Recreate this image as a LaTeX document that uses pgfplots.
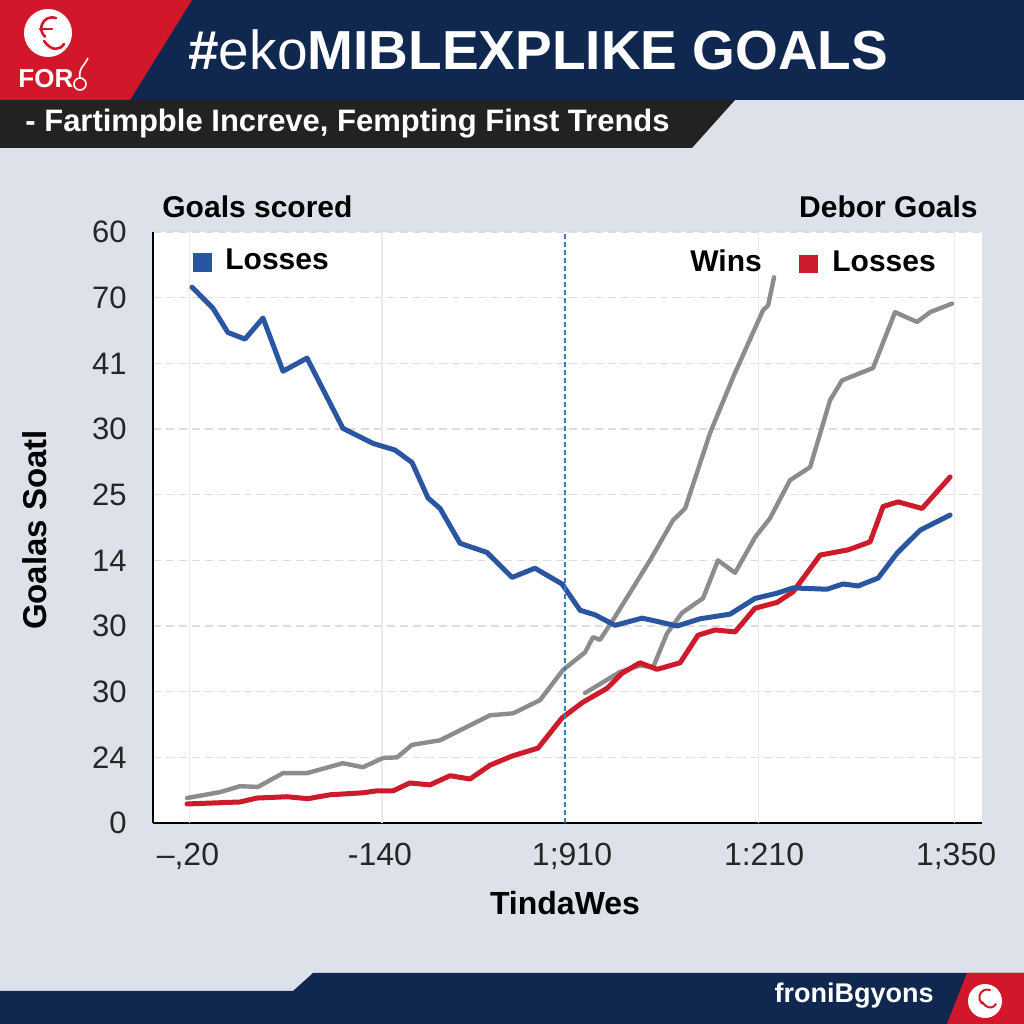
\documentclass[border=0pt]{standalone}
\usepackage{pgfplots}
\pgfplotsset{compat=1.18}
\usepackage{fontspec}
\setmainfont{Liberation Sans}
\definecolor{navy}{HTML}{10284F}
\definecolor{bgl}{HTML}{DCE1EA}
\definecolor{redh}{HTML}{D3172A}
\definecolor{barblack}{HTML}{222222}
\definecolor{blueL}{HTML}{2A55A0}
\definecolor{redL}{HTML}{CD1B2B}
\definecolor{grayL}{HTML}{8C8C8C}
\definecolor{dashblue}{HTML}{2F7FD0}
\definecolor{gridc}{HTML}{DDDDDD}
\begin{document}
\begin{tikzpicture}[x=0.5pt,y=0.5pt]
\useasboundingbox (0,0) rectangle (1024,1024);
\fill[bgl] (0,0) rectangle (1024,1024);
% header
\fill[navy] (0,924) rectangle (1024,1024);
\fill[redh] (0,1024) -- (192,1024) -- (130,924) -- (0,924) -- cycle;
\fill[barblack] (0,924) -- (735,924) -- (692,876) -- (0,876) -- cycle;
% logo top-left
\fill[white] (48,991) circle (24);
\draw[redh, line width=1.3pt, line cap=round] (56,1006) arc (70:230:11) ;
\draw[redh, line width=1.3pt, line cap=round] (40,995) -- (52,995);
\draw[redh, line width=1.3pt, line cap=round] (44,983) .. controls (52,972) and (60,974) .. (64,980);
\node[anchor=base west, inner sep=0, text=white, font=\fontsize{13}{13}\selectfont\bfseries] at (18,936) {FOR};
\draw[white, line width=0.8pt] (80,940) circle (6);
\draw[white, line width=0.8pt] (80,946) .. controls (78,956) and (86,960) .. (88,966);
% title and subtitle
\node[anchor=base west, inner sep=0, text=white, font=\fontsize{27.5}{30}\selectfont\bfseries] at (188,954) {\#{\mdseries eko}MIBLEXPLIKE GOALS};
\node[anchor=base west, inner sep=0, text=white, font=\fontsize{15.5}{17}\selectfont\bfseries] at (25,892) {- Fartimpble Increve, Fempting Finst Trends};
% footer
\fill[navy] (0,0) -- (0,33) -- (293,33) -- (313,51) -- (1024,51) -- (1024,0) -- cycle;
\fill[redh] (967,51) -- (1024,51) -- (1024,0) -- (947,0) -- cycle;
\fill[white] (985,23) circle (17);
\draw[redh, line width=1pt, line cap=round] (990,34) arc (70:230:8);
\draw[redh, line width=1pt, line cap=round] (982,22) .. controls (988,14) and (994,16) .. (996,20);
\node[anchor=base east, inner sep=0, text=white, font=\fontsize{13.5}{14}\selectfont\bfseries] at (934,21) {froniBgyons};
% chart headings
\node[anchor=base west, inner sep=0, text=black, font=\fontsize{15}{16}\selectfont\bfseries] at (162,806) {Goals scored};
\node[anchor=base east, inner sep=0, text=black, font=\fontsize{15}{16}\selectfont\bfseries] at (978,806) {Debor Goals};
\begin{axis}[
  at={(76.5pt,100.5pt)}, anchor=south west,
  width=414.5pt, height=295.5pt, scale only axis,
  xmin=-0.182, xmax=4.135, ymin=0, ymax=9,
  axis x line*=bottom, axis y line*=left,
  axis line style={black, line width=1pt, -},
  axis background/.style={fill=white},
  xtick={0,1,2,3,4},
  xticklabels={{–,20},{-140},{1;910},{1:210},{1;350}},
  ytick={0,1,2,3,4,5,6,7,8,9},
  yticklabels={0,24,30,30,14,25,30,41,70,60},
  major tick length=0pt,
  tick style={draw=none},
  ymajorgrids,
  grid style={gridc, line width=0.7pt, dash pattern=on 4pt off 2.5pt},
  yticklabel style={font=\fontsize{15.5}{16}\selectfont, text=black!85, inner sep=0pt, xshift=-13pt},
  xticklabel style={font=\fontsize{16}{16}\selectfont, text=black!85, inner sep=0pt, yshift=-10pt},
  clip=false,
  every axis plot/.append style={line join=round, line cap=round},
]
% vertical light grid
\draw[black!8, line width=0.6pt] (axis cs:0.01,0) -- (axis cs:0.01,9);
\draw[black!8, line width=0.6pt] (axis cs:1.01,0) -- (axis cs:1.01,9);
\draw[black!8, line width=0.6pt] (axis cs:2.97,0) -- (axis cs:2.97,9);
\draw[black!8, line width=0.6pt] (axis cs:3.99,0) -- (axis cs:3.99,9);
% gray line 1 (Wins)
\addplot[grayL, line width=2.2pt] coordinates {
(-0.005,0.38) (0.167,0.47) (0.271,0.56) (0.365,0.55) (0.495,0.76) (0.620,0.76)
(0.807,0.91) (0.911,0.85) (1.016,0.99) (1.089,1.00) (1.167,1.19) (1.313,1.26)
(1.443,1.45) (1.573,1.64) (1.693,1.67) (1.833,1.87) (1.953,2.33) (2.068,2.60)
(2.109,2.83) (2.146,2.79) (2.224,3.14) (2.406,4.00) (2.526,4.61) (2.589,4.79)
(2.719,5.94) (2.839,6.79) (2.995,7.81) (3.021,7.88) (3.052,8.31)};
% gray line 2
\addplot[grayL, line width=2.2pt] coordinates {
(2.068,1.98) (2.250,2.30) (2.354,2.40) (2.422,2.37) (2.495,2.89) (2.573,3.20)
(2.651,3.36) (2.682,3.42) (2.760,4.00) (2.849,3.81) (2.953,4.35) (3.031,4.64)
(3.135,5.22) (3.240,5.42) (3.344,6.44) (3.406,6.74) (3.568,6.93) (3.682,7.78)
(3.797,7.63) (3.865,7.78) (3.979,7.91)};
% red line (Losses)
\addplot[redL, line width=2.5pt] coordinates {
(-0.005,0.29) (0.271,0.32) (0.359,0.38) (0.516,0.40) (0.625,0.37) (0.740,0.43)
(0.911,0.46) (0.984,0.49) (1.068,0.49) (1.156,0.61) (1.260,0.58) (1.365,0.72)
(1.469,0.67) (1.573,0.88) (1.688,1.02) (1.823,1.14) (1.948,1.60) (2.057,1.84)
(2.182,2.05) (2.260,2.28) (2.354,2.44) (2.443,2.34) (2.563,2.44) (2.656,2.86)
(2.745,2.94) (2.849,2.91) (2.953,3.27) (3.068,3.36) (3.151,3.52) (3.292,4.08)
(3.438,4.16) (3.552,4.28) (3.620,4.82) (3.698,4.89) (3.823,4.79) (3.969,5.27)};
% blue line (Losses)
\addplot[blueL, line width=2.5pt] coordinates {
(0.021,8.16) (0.130,7.84) (0.208,7.47) (0.297,7.37) (0.391,7.69) (0.495,6.88)
(0.620,7.08) (0.807,6.01) (0.964,5.78) (1.078,5.68) (1.167,5.49) (1.250,4.95)
(1.313,4.79) (1.417,4.26) (1.557,4.12) (1.688,3.74) (1.807,3.88) (1.948,3.64)
(2.042,3.24) (2.120,3.17) (2.224,3.01) (2.365,3.12) (2.443,3.07) (2.547,3.00)
(2.667,3.11) (2.755,3.15) (2.823,3.18) (2.953,3.42) (3.068,3.50) (3.151,3.58)
(3.328,3.56) (3.411,3.64) (3.490,3.61) (3.594,3.73) (3.693,4.11) (3.813,4.46)
(3.969,4.69)};
% dashed blue vertical marker
\addplot[dashblue, line width=1pt, dash pattern=on 2.5pt off 1.5pt, line cap=butt] coordinates {(1.964,0) (1.964,9)};
\end{axis}
% legends
\fill[blueL] (193,752) rectangle (212,771);
\node[anchor=base west, inner sep=0, text=black, font=\fontsize{15}{16}\selectfont\bfseries] at (225,754) {Losses};
\node[anchor=base west, inner sep=0, text=black, font=\fontsize{15}{16}\selectfont\bfseries] at (690,752) {Wins};
\fill[redL] (799,751) rectangle (818,769);
\node[anchor=base west, inner sep=0, text=black, font=\fontsize{15}{16}\selectfont\bfseries] at (832,752) {Losses};
% axis labels
\node[anchor=base, inner sep=0, text=black, font=\fontsize{16}{16}\selectfont\bfseries] at (565,109) {TindaWes};
\node[rotate=90, anchor=center, inner sep=0, text=black, font=\fontsize{16.5}{17}\selectfont\bfseries] at (35,494) {Goalas Soatl};
\end{tikzpicture}
\end{document}
